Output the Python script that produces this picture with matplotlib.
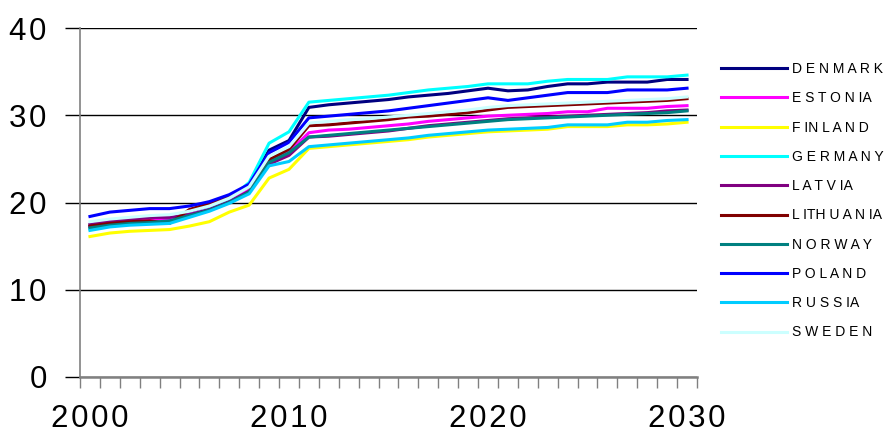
import numpy as np
import matplotlib.pyplot as plt
from matplotlib.ticker import FixedLocator

plt.rcParams['font.family'] = ['Liberation Sans', 'DejaVu Sans']

years = list(range(2000, 2031))

denmark = [17.3, 17.7, 17.9, 18.0, 18.1, 18.8, 19.6, 20.7, 22.0, 26.0, 27.1, 30.9, 31.2,
           31.4, 31.6, 31.8, 32.1, 32.3, 32.5, 32.8, 33.1, 32.8, 32.9, 33.3, 33.6, 33.6,
           33.8, 33.8, 33.8, 34.1, 34.1]
estonia = [17.2, 17.6, 17.8, 18.0, 18.1, 18.6, 19.3, 20.2, 21.5, 24.6, 25.8, 28.0, 28.3,
           28.4, 28.6, 28.8, 29.0, 29.3, 29.5, 29.7, 29.9, 30.0, 30.1, 30.2, 30.4, 30.4,
           30.8, 30.8, 30.8, 31.0, 31.1]
finland = [16.1, 16.5, 16.7, 16.8, 16.9, 17.3, 17.8, 18.9, 19.7, 22.8, 23.8, 26.2, 26.4,
           26.6, 26.8, 27.0, 27.2, 27.5, 27.7, 27.9, 28.1, 28.2, 28.3, 28.4, 28.7, 28.7,
           28.7, 28.9, 28.9, 29.0, 29.2]
germany = [17.0, 17.4, 17.6, 17.7, 17.8, 18.5, 19.3, 20.4, 22.3, 26.8, 28.1, 31.5, 31.7,
           31.9, 32.1, 32.3, 32.6, 32.9, 33.1, 33.3, 33.6, 33.6, 33.6, 33.9, 34.1, 34.1,
           34.1, 34.4, 34.4, 34.4, 34.6]
latvia = [17.5, 17.9, 18.1, 18.3, 18.3, 18.6, 19.2, 20.1, 21.3, 24.4, 25.4, 27.5, 27.6,
          27.8, 28.0, 28.2, 28.5, 28.8, 29.0, 29.2, 29.4, 29.6, 29.7, 29.8, 29.9, 30.0,
          30.1, 30.2, 30.3, 30.5, 30.6]
lithuania = [17.3, 17.6, 17.8, 17.9, 17.6, 19.2, 19.9, 20.8, 21.8, 24.9, 26.1, 28.8, 28.9,
             29.1, 29.3, 29.5, 29.8, 29.9, 30.1, 30.3, 30.6, 30.9, 31.0, 31.1, 31.2, 31.3,
             31.4, 31.5, 31.6, 31.7, 31.9]
norway = [17.1, 17.4, 17.6, 17.7, 17.9, 18.5, 19.1, 20.0, 21.2, 24.6, 25.7, 27.5, 27.7,
          27.9, 28.1, 28.3, 28.5, 28.7, 28.9, 29.1, 29.3, 29.5, 29.6, 29.7, 29.8, 29.9,
          30.0, 30.1, 30.2, 30.3, 30.5]
poland = [18.4, 18.9, 19.1, 19.3, 19.3, 19.6, 20.1, 20.9, 22.1, 25.7, 26.9, 29.7, 29.9,
          30.1, 30.3, 30.5, 30.8, 31.1, 31.4, 31.7, 32.0, 31.7, 32.0, 32.3, 32.6, 32.6,
          32.6, 32.9, 32.9, 32.9, 33.1]
russia = [16.8, 17.2, 17.4, 17.5, 17.6, 18.3, 19.0, 19.9, 21.0, 24.2, 24.7, 26.4, 26.6,
          26.8, 27.0, 27.2, 27.4, 27.7, 27.9, 28.1, 28.3, 28.4, 28.5, 28.6, 28.9, 28.9,
          28.9, 29.2, 29.2, 29.4, 29.5]
sweden = [17.8, 18.1, 18.3, 18.5, 18.6, 19.0, 19.6, 20.5, 21.8, 25.3, 26.4, 29.1, 29.3,
          29.5, 29.6, 29.8, 30.0, 30.2, 30.4, 30.6, 30.9, 31.1, 31.2, 31.3, 31.4, 31.5,
          31.6, 31.7, 31.8, 31.9, 32.1]

labels = ["D E N M A R K", "E S T O N IA", "F IN L A N D", "G E R M A N Y", "L A T V IA",
          "L ITH U A N IA", "N O R W A Y", "P O L A N D", "R U S S IA", "S W E D E N"]
series = [denmark, estonia, finland, germany, latvia, lithuania, norway, poland, russia, sweden]
colors = ["#000080", "#FF00FF", "#FFFF00", "#00FFFF", "#800080",
          "#800000", "#008080", "#0000FF", "#00CCFF", "#CCFFFF"]

y_ticks = [0, 10, 20, 30, 40]
x_ticks = [2000, 2010, 2020, 2030]


def spaced(v):
    # wide letter spacing like the original chart
    return "\u200a".join(str(v))


fig = plt.figure(figsize=(8.87, 4.37), dpi=100)
ax = fig.add_axes([80 / 887, 1 - 377 / 437, 617 / 887, 349 / 437])

for vals, lab, c in zip(series, labels, colors):
    ax.plot(years, vals, color=c, lw=2.2, label=lab)

ax.set_xlim(1999.5, 2030.5)
ax.set_ylim(0, 40)
ax.set_yticks(y_ticks)
ax.set_yticklabels([spaced(v) for v in y_ticks], fontsize=22.5)
ax.yaxis.grid(True, color="black", lw=1)
ax.set_axisbelow(True)
ax.tick_params(axis="y", length=11, width=1, color="black", pad=13)

ax.set_xticks(x_ticks)
ax.set_xticklabels([spaced(v) for v in x_ticks], fontsize=22.5)
ax.xaxis.set_minor_locator(FixedLocator(np.arange(1999.5, 2031, 1)))
ax.tick_params(axis="x", which="major", length=0, pad=19.5)
ax.tick_params(axis="x", which="minor", length=8, width=1, color="#808080")

for s in ["top", "right"]:
    ax.spines[s].set_visible(False)
ax.spines["left"].set_color("#808080")
ax.spines["left"].set_linewidth(1.2)
ax.spines["bottom"].set_color("#808080")
ax.spines["bottom"].set_linewidth(1.8)

fig.legend(loc="upper left", bbox_to_anchor=(721 / 887, 1 - 62 / 437),
           bbox_transform=fig.transFigure, frameon=False, fontsize=10,
           handlelength=4.75, handletextpad=0.35, labelspacing=1.1,
           borderpad=0, borderaxespad=0)

plt.savefig("out.png", dpi=100)
